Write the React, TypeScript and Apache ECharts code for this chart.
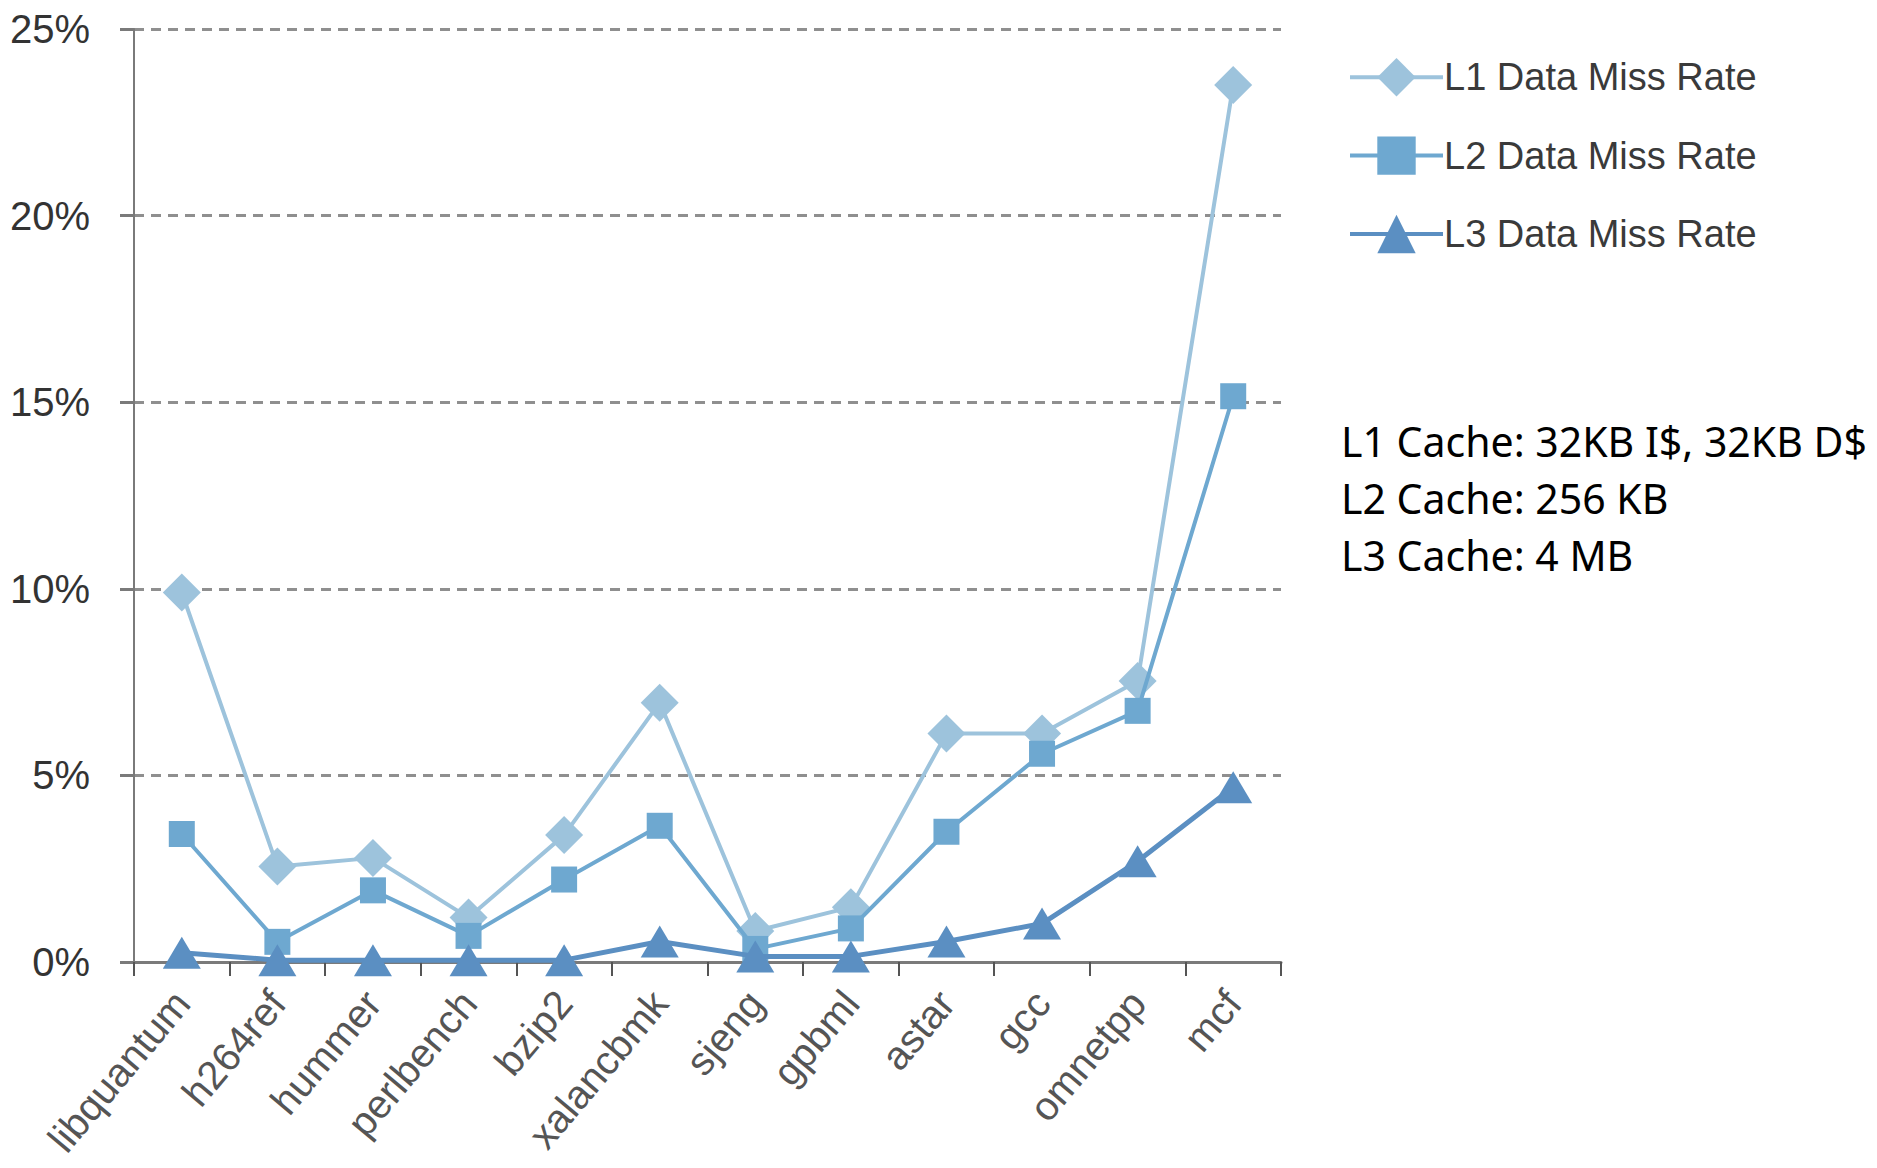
import React, { useEffect, useRef } from "react";
import * as echarts from "echarts";

const categories = ["libquantum", "h264ref", "hummer", "perlbench", "bzip2", "xalancbmk", "sjeng", "gpbml", "astar", "gcc", "omnetpp", "mcf"];
const l1Miss = [9.9, 2.56, 2.79, 1.19, 3.4, 6.95, 0.83, 1.47, 6.12, 6.12, 7.53, 23.5];
const l2Miss = [3.43, 0.54, 1.92, 0.7, 2.21, 3.65, 0.35, 0.9, 3.49, 5.58, 6.73, 15.16];
const l3Miss = [0.25, 0.05, 0.05, 0.05, 0.05, 0.55, 0.15, 0.15, 0.55, 1.03, 2.7, 4.68];
const seriesNames = ["L1 Data Miss Rate", "L2 Data Miss Rate", "L3 Data Miss Rate"];
const noteLines = ["L1 Cache: 32KB I$, 32KB D$", "L2 Cache: 256 KB", "L3 Cache: 4 MB"];

const C1 = "#9dc3dc";
const C2 = "#6ea8d0";
const C3 = "#5b8fc2";

export default function App() {
  const ref = useRef<HTMLDivElement>(null);
  useEffect(() => {
    if (!ref.current) return;
    const chart = echarts.init(ref.current, null, { renderer: "svg" });
    const font = "'Liberation Sans', Arial, sans-serif";
    chart.setOption({
      animation: false,
      backgroundColor: "#ffffff",
      grid: { left: 134, top: 29, width: 1147, height: 933, containLabel: false },
      legend: {
        left: 1343,
        top: 53,
        orient: "vertical",
        itemWidth: 93,
        itemHeight: 48,
        itemGap: 40,
        lineStyle: { width: 4 },
        textStyle: { fontFamily: font, fontSize: 38, color: "#3a3a3a", padding: [0, 0, 0, -4] },
        data: seriesNames,
      },
      xAxis: {
        type: "category",
        data: categories,
        boundaryGap: true,
        axisLine: { show: true, lineStyle: { color: "#7a7a7a", width: 3 } },
        axisTick: { show: true, length: 14, lineStyle: { color: "#555", width: 2 } },
        axisLabel: { rotate: 50, fontFamily: font, fontSize: 40, color: "#555", margin: 34 },
        splitLine: { show: false },
      },
      yAxis: {
        type: "value",
        min: 0,
        max: 25,
        interval: 5,
        axisLine: { show: true, lineStyle: { color: "#7a7a7a", width: 2 } },
        axisTick: { show: true, length: 14, lineStyle: { color: "#7a7a7a", width: 3 } },
        axisLabel: { formatter: "{value}%", fontFamily: font, fontSize: 40, color: "#333", margin: 44 },
        splitLine: { show: true, lineStyle: { color: "#8f8f8f", width: 3, type: [10, 7] } },
      },
      series: [
        {
          name: seriesNames[0],
          type: "line",
          data: l1Miss,
          symbol: "diamond",
          symbolSize: 38,
          itemStyle: { color: C1 },
          lineStyle: { color: C1, width: 4 },
          z: 3,
        },
        {
          name: seriesNames[1],
          type: "line",
          data: l2Miss,
          symbol: "rect",
          symbolSize: 26,
          itemStyle: { color: C2 },
          lineStyle: { color: C2, width: 4 },
          z: 4,
        },
        {
          name: seriesNames[2],
          type: "line",
          data: l3Miss,
          symbol: "triangle",
          symbolSize: [38, 32],
          itemStyle: { color: C3 },
          lineStyle: { color: C3, width: 5 },
          z: 5,
        },
      ],
      graphic: noteLines.map((t, i) => ({
        type: "text",
        left: 1341,
        top: 420 + i * 57,
        style: { text: t, fontFamily: "'Noto Sans', sans-serif", fontSize: 41, fill: "#000" },
      })),
    });
    return () => chart.dispose();
  }, []);
  return <div ref={ref} style={{ position: "absolute", left: 0, top: 0, width: 1877, height: 1168 }} />;
}
